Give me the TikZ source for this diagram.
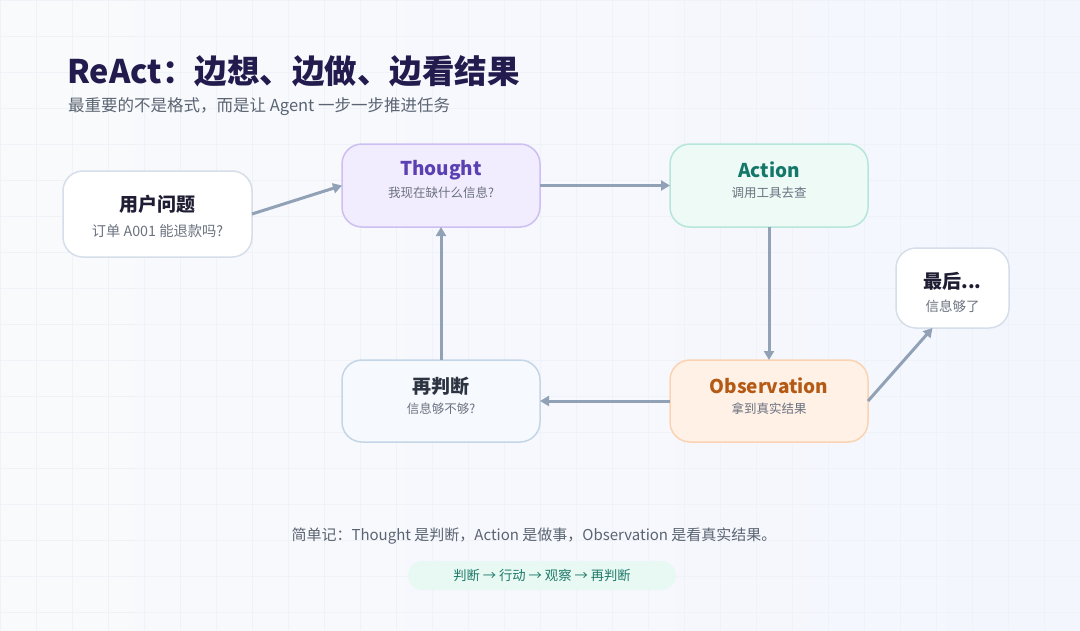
\documentclass[tikz,border=0pt]{standalone}
\usepackage{fontspec}
\setmainfont{Noto Sans CJK SC}
\usetikzlibrary{arrows.meta,calc}
\definecolor{bgL}{HTML}{F8FAFC}
\definecolor{bgR}{HTML}{F4F6FE}
\definecolor{gridc}{HTML}{EFF2F7}
\definecolor{titlec}{HTML}{231B4E}
\definecolor{subc}{HTML}{5B6472}
\definecolor{graytext}{HTML}{6B7280}
\definecolor{darkt}{HTML}{1F1D33}
\definecolor{arrowc}{HTML}{91A1B6}
\definecolor{whiteB}{HTML}{D6DEEA}
\definecolor{thF}{HTML}{F2EDFE}
\definecolor{thB}{HTML}{CDBFF1}
\definecolor{thT}{HTML}{5B40B2}
\definecolor{acF}{HTML}{EDFAF6}
\definecolor{acB}{HTML}{B6E6D9}
\definecolor{acT}{HTML}{13776A}
\definecolor{obF}{HTML}{FFF1E6}
\definecolor{obB}{HTML}{FBD3B2}
\definecolor{obT}{HTML}{B45A14}
\definecolor{reF}{HTML}{F6F9FD}
\definecolor{reB}{HTML}{C4D5E6}
\definecolor{reT}{HTML}{2C3441}
\definecolor{pillF}{HTML}{E8F8F3}
\definecolor{pillT}{HTML}{1F7A6A}
\begin{document}
\begin{tikzpicture}[x=1pt,y=-1pt,
  box/.style={draw, line width=1.5pt, rounded corners=20pt, outer sep=0pt, inner sep=0pt},
  ttl/.style={font=\bfseries\fontsize{19}{22}\selectfont, anchor=center, inner sep=0pt},
  sub/.style={font=\fontsize{12.5}{15}\selectfont, text=graytext, anchor=center, inner sep=0pt},
  arr/.style={draw=arrowc, line width=3pt, -{Triangle[length=9pt,width=10pt]}}
]
\useasboundingbox (0,0) rectangle (1080,630);
\shade[left color=bgL, right color=bgR] (0,0) rectangle (1080,630);
\draw[gridc, line width=0.6pt] (0,0) grid[step=36pt] (1080,630);

% title
\node[anchor=west, inner sep=0pt, text=titlec, font=\bfseries\fontsize{32.5}{38}\selectfont] (title) at (67,71) {ReAct：边想、边做、边看结果};
\node[anchor=west, inner sep=0pt, text=subc, font=\fontsize{16.5}{19}\selectfont] (subtitle) at (68,107) {最重要的不是格式，而是让 Agent 一步一步推进任务};

% boxes
\node[box, fill=white, draw=whiteB, minimum width=189pt, minimum height=86pt] (u) at (157.5,214) {};
\node[box, fill=thF, draw=thB, minimum width=198pt, minimum height=83pt] (t) at (441,185.5) {};
\node[box, fill=acF, draw=acB, minimum width=198pt, minimum height=83pt] (a) at (769,185.5) {};
\node[box, fill=white, draw=whiteB, minimum width=113pt, minimum height=80pt] (f) at (952.5,288) {};
\node[box, fill=reF, draw=reB, minimum width=198pt, minimum height=82pt] (r) at (441,401) {};
\node[box, fill=obF, draw=obB, minimum width=198pt, minimum height=82pt] (o) at (769,401) {};

% texts
\node[ttl, text=darkt] (ut) at (157.5,204) {用户问题};
\node[sub, font=\fontsize{14.3}{17}\selectfont] (us) at (157.5,231) {订单 A001 能退款吗?};
\node[ttl, text=thT] (tt) at (441,170) {Thought};
\node[sub] (ts) at (441,193) {我现在缺什么信息?};
\node[ttl, text=acT] (at) at (769,170) {Action};
\node[sub] (as) at (769,193) {调用工具去查};
\node[ttl, text=darkt] (ft) at (952.5,281) {最后...};
\node[sub, font=\fontsize{13.5}{16}\selectfont] (fs) at (952.5,306) {信息够了};
\node[ttl, text=reT] (rt) at (441,386) {再判断};
\node[sub] (rs) at (441,409) {信息够不够?};
\node[ttl, text=obT] (ot) at (769,386) {Observation};
\node[sub] (os) at (769,409) {拿到真实结果};

% arrows
\draw[arr] (u.east) -- (t.west);
\draw[arr] (t.east) -- (a.west);
\draw[arr] (a.south) -- (o.north);
\draw[arr] (o.west) -- (r.east);
\draw[arr] (r.north) -- (t.south);
\draw[arr] (o.east) -- ([xshift=-20pt]f.south);

% bottom
\node[inner sep=0pt, text=subc, font=\fontsize{15}{18}\selectfont] (note) at (534,536) {简单记：Thought 是判断，Action 是做事，Observation 是看真实结果。};
\node[fill=pillF, rounded corners=14.5pt, minimum width=268pt, minimum height=29pt, inner sep=0pt, text=pillT, font=\fontsize{13.3}{16}\selectfont] (pill) at (542,575.5) {判断 → 行动 → 观察 → 再判断};
\end{tikzpicture}
\end{document}
